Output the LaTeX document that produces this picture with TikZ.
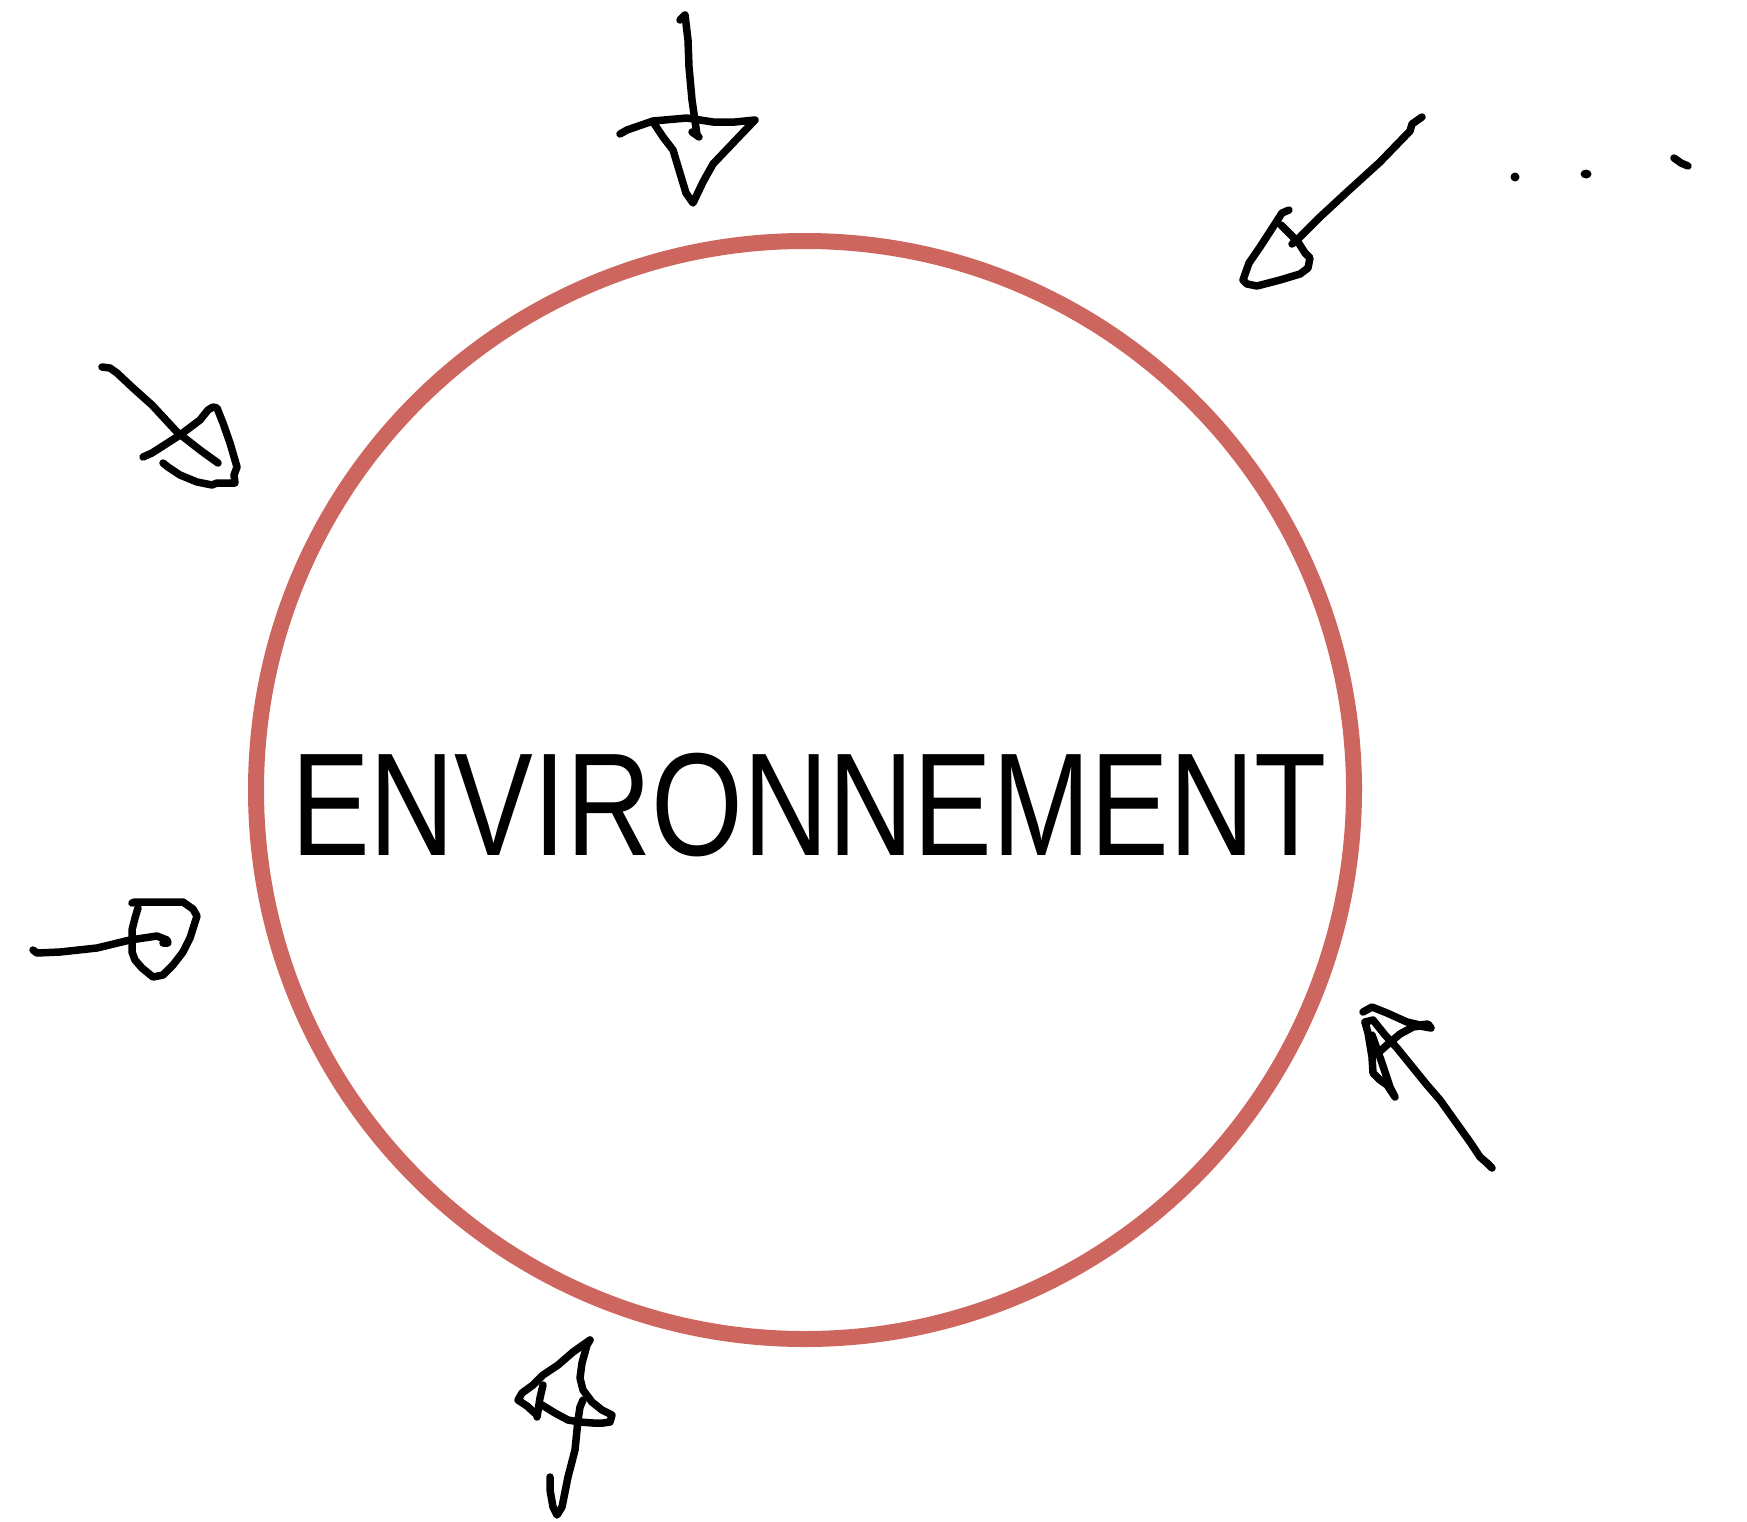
\documentclass[tikz,border=0pt]{standalone}
\usepackage{fontspec}
\setmainfont{Liberation Sans}
\definecolor{rouge}{RGB}{205,102,94}
\tikzset{x=1pt, y=-1pt,
    contour/.style={draw=rouge, line width=16pt},
    trait/.style={draw=black, line width=7.5pt, line cap=round, line join=round},
    point/.style={fill=black},
    }

\begin{document}
\begin{tikzpicture}
\useasboundingbox (0,0) rectangle (1747,1521);
\node[circle, contour, minimum size=1098pt, inner sep=0pt] (env) at (805,790) {};
\node[inner sep=0pt, xscale=0.805, font=\fontsize{146.6}{150}\selectfont] (label) at (809,805.5) {ENVIRONNEMENT};
% haut
\draw[trait] (680,20) -- (685,15) -- (688,40) -- (689,67) -- (692,100) -- (697,135);
\draw[trait] (692,132) -- (699,137);
\draw[trait] (620,134) -- (627,130) -- (653,121) -- (687,118) -- (713,122) -- (735,122) -- (755,120)
    -- (733,143) -- (713,164) -- (703,182) -- (693,203) -- (686,193) -- (673,150) -- (663,137) -- (653,122);
% haut droite
\draw[trait] (1422,117) -- (1412,124) -- (1410,131) -- (1380,162) -- (1347,192) -- (1320,217) -- (1297,240) -- (1292,244);
\draw[trait] (1289,210) -- (1282,213) -- (1273,227) -- (1260,247) -- (1249,263) -- (1243,280) -- (1247,284)
    -- (1257,286) -- (1280,280) -- (1300,274) -- (1308,268) -- (1310,258) -- (1305,253) -- (1298,242) -- (1281,225);
% points
\fill[point] (1515,177) circle (4.5pt);
\fill[point] (1586,174) ellipse (5.5pt and 4.5pt);
\draw[trait] (1674,158) -- (1681,163) -- (1688,166);
% gauche haut
\draw[trait] (102,367) -- (110,368) -- (117,373) -- (133,388) -- (152,405) -- (177,432) -- (200,450) -- (218,463);
\draw[trait] (143,457) -- (152,453) -- (180,435) -- (200,420) -- (208,410) -- (213,407) -- (217,408) -- (223,423)
    -- (230,443) -- (237,467) -- (234,475) -- (235,483) -- (227,483) -- (217,483) -- (212,485) -- (197,482)
    -- (180,475) -- (168,467) -- (163,463);
% gauche
\draw[trait] (33,950) -- (37,953) -- (60,952) -- (97,948) -- (130,940) -- (157,936) -- (167,940) -- (168,943) -- (163,943);
\draw[trait] (132,903) -- (135,902) -- (183,902) -- (193,909) -- (197,916) -- (190,938) -- (183,952) -- (173,965)
    -- (163,975) -- (153,977) -- (142,968) -- (135,960) -- (132,952) -- (132,930) -- (135,918) -- (138,908);
% bas droite
\draw[trait] (1492,1168) -- (1487,1163) -- (1480,1157) -- (1470,1142) -- (1460,1128) -- (1440,1100) -- (1427,1085)
    -- (1397,1048) -- (1385,1035) -- (1373,1020) -- (1365,1022);
\draw[trait] (1363,1012) -- (1372,1007) -- (1387,1013) -- (1407,1022) -- (1420,1025) -- (1428,1024) -- (1431,1028)
    -- (1420,1026) -- (1413,1027) -- (1400,1034) -- (1387,1045) -- (1378,1053);
\draw[trait] (1365,1022) -- (1368,1033) -- (1372,1057) -- (1373,1073) -- (1380,1080) -- (1387,1085) -- (1395,1097)
    -- (1390,1087) -- (1382,1063) -- (1372,1035);
% bas
\draw[trait] (550,1477) -- (550,1490) -- (553,1507) -- (557,1515) -- (562,1507) -- (568,1477) -- (575,1450)
    -- (578,1420) -- (580,1407) -- (583,1400);
\draw[trait] (590,1340) -- (587,1345) -- (582,1363) -- (580,1378) -- (583,1390) -- (592,1402) -- (602,1410)
    -- (612,1415) -- (610,1422) -- (603,1423) -- (593,1423) -- (580,1422) -- (568,1420) -- (555,1413) -- (542,1405);
\draw[trait] (590,1340) -- (573,1352) -- (558,1365) -- (543,1375) -- (533,1385) -- (522,1393) -- (518,1400)
    -- (527,1406) -- (537,1415);
\draw[trait] (537,1417) -- (540,1398) -- (543,1385);
\end{tikzpicture}
\end{document}
